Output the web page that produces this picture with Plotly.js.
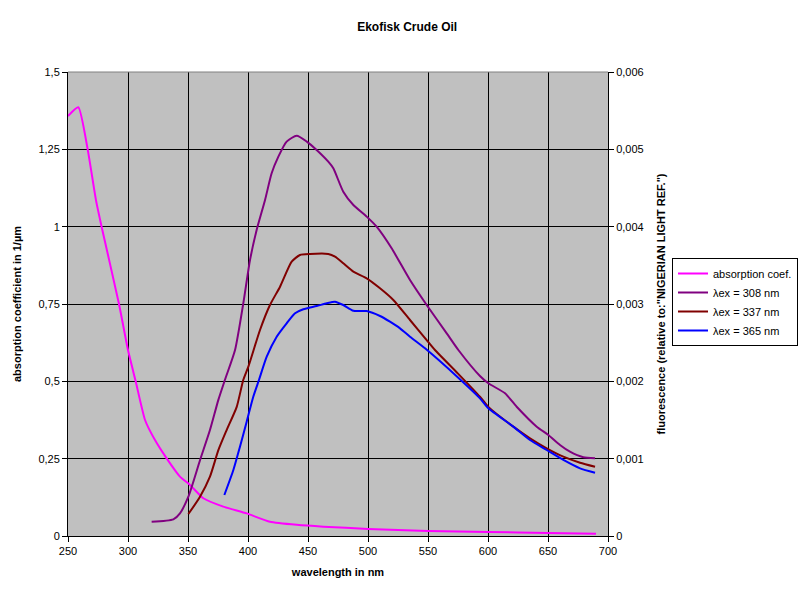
<!DOCTYPE html>
<html>
<head>
<meta charset="utf-8">
<script src="https://cdn.plot.ly/plotly-3.0.1.min.js"></script>
<style>html,body{margin:0;padding:0;background:#fff;}#chart{width:800px;height:600px;}</style>
</head>
<body>
<div id="chart"></div>
<script>
const absX = [250, 258.6, 266.4, 273.3, 278, 292.5, 300, 306.4, 314.2, 322.5, 332.2, 343.3, 351.7, 362.8, 379.4, 398.9, 418.3, 440.6, 462.8, 500, 550, 600, 650, 690];
const absY = [1.358, 1.386, 1.25, 1.086, 1.0, 0.75, 0.601, 0.5, 0.375, 0.31, 0.251, 0.192, 0.165, 0.122, 0.095, 0.073, 0.046, 0.036, 0.030, 0.023, 0.016, 0.013, 0.010, 0.007];

const ex308X = [319.7, 337.8, 343.3, 350.3, 360, 368.3, 375.3, 380.8, 389.2, 396.1, 401.7, 407.2, 414.2, 419.7, 425.3, 432.2, 440.6, 449, 457.2, 466.9, 471.1, 479.4, 487.8, 498.9, 507.2, 519.7, 535, 548.9, 565.6, 575.3, 593.3, 600.3, 614.2, 623.9, 640.6, 650.3, 660, 668.3, 679.4, 689.2];
const ex308Y = [0.000185, 0.000216, 0.000293, 0.000508, 0.00098, 0.00137, 0.00176, 0.00202, 0.002405, 0.00301, 0.00357, 0.003957, 0.004345, 0.00469, 0.004905, 0.0051, 0.005176, 0.0051, 0.004991, 0.00484, 0.004755, 0.004452, 0.00428, 0.00413, 0.0040, 0.00372, 0.00331, 0.002987, 0.00262, 0.002405, 0.002069, 0.001975, 0.001845, 0.001672, 0.001414, 0.001306, 0.001177, 0.00109, 0.001018, 0.001005];

const ex337X = [350.3, 360, 368.3, 375.3, 382.2, 390.6, 396.1, 400.3, 410, 418.3, 426.7, 436.4, 443.3, 451.7, 466.9, 472.5, 479.4, 487.8, 498.9, 510, 521.1, 535, 548.9, 555.8, 575, 593.3, 600.3, 621.1, 635, 648.9, 662.8, 676.7, 689.2];
const ex337Y = [0.000284, 0.000508, 0.000767, 0.00111, 0.00137, 0.00167, 0.00202, 0.00219, 0.002664, 0.002987, 0.003224, 0.003547, 0.003634, 0.003647, 0.003647, 0.003612, 0.003526, 0.003418, 0.003332, 0.003203, 0.003052, 0.002793, 0.002534, 0.002405, 0.00210, 0.001801, 0.00167, 0.001414, 0.001263, 0.001134, 0.001026, 0.000948, 0.000896];

const ex365X = [380.3, 387.8, 393.3, 398.9, 404.4, 409.2, 415.6, 423.9, 432.2, 439.2, 446.1, 457.2, 465.6, 472.5, 479.4, 487.8, 498.9, 510, 518.3, 526.7, 535, 547.5, 575, 593.3, 600.3, 621.1, 635, 648.9, 662.8, 676.7, 689.2];
const ex365Y = [0.00053, 0.000853, 0.001155, 0.001478, 0.001801, 0.00202, 0.002318, 0.002577, 0.00275, 0.00288, 0.002932, 0.002974, 0.00301, 0.00303, 0.002987, 0.002913, 0.002909, 0.002845, 0.002771, 0.002685, 0.002577, 0.002427, 0.00205, 0.00178, 0.001651, 0.001414, 0.001241, 0.001112, 0.000983, 0.000875, 0.000819];

const seriesNames = ['absorption coef.', 'λex = 308 nm', 'λex = 337 nm', 'λex = 365 nm'];

const FONT = 'Arial, "Liberation Sans", sans-serif';
const data = [
  {x: absX, y: absY, name: seriesNames[0], type: 'scatter', mode: 'lines', line: {color: '#FF00FF', width: 2, shape: 'spline', smoothing: 0.5}, yaxis: 'y'},
  {x: ex308X, y: ex308Y, name: seriesNames[1], type: 'scatter', mode: 'lines', line: {color: '#800080', width: 2, shape: 'spline', smoothing: 0.6}, yaxis: 'y2'},
  {x: ex337X, y: ex337Y, name: seriesNames[2], type: 'scatter', mode: 'lines', line: {color: '#800000', width: 2, shape: 'spline', smoothing: 0.6}, yaxis: 'y2'},
  {x: ex365X, y: ex365Y, name: seriesNames[3], type: 'scatter', mode: 'lines', line: {color: '#0000FF', width: 2, shape: 'spline', smoothing: 0.6}, yaxis: 'y2'}
];

const layout = {
  width: 800, height: 600,
  separators: ',.',
  paper_bgcolor: '#ffffff',
  plot_bgcolor: '#c0c0c0',
  font: {family: FONT, size: 11, color: '#000'},
  margin: {l: 68, r: 192, t: 72, b: 64, pad: 0},
  title: {text: 'Ekofisk Crude Oil', font: {family: FONT, size: 12, weight: 'bold', color: '#000'}, xref: 'container', x: 0.509, xanchor: 'center', yref: 'container', y: 0.955, yanchor: 'middle'},
  xaxis: {
    range: [250, 700], dtick: 50, tick0: 250, showgrid: true, gridcolor: '#000', gridwidth: 1,
    showline: true, linecolor: '#000', linewidth: 1, ticks: 'outside', ticklen: 5, tickcolor: '#000',
    zeroline: false, tickfont: {family: FONT, size: 11},
    title: {text: 'wavelength in nm', font: {family: FONT, size: 11, weight: 'bold'}, standoff: 12}
  },
  yaxis: {
    range: [0, 1.5], dtick: 0.25, tick0: 0, showgrid: true, gridcolor: '#000', gridwidth: 1,
    showline: true, linecolor: '#000', linewidth: 1, ticks: 'outside', ticklen: 5, tickcolor: '#000',
    zeroline: false, tickfont: {family: FONT, size: 11},
    title: {text: 'absorption coefficient in 1/µm', font: {family: FONT, size: 11, weight: 'bold'}, standoff: 14}
  },
  yaxis2: {
    range: [0, 0.006], dtick: 0.001, tick0: 0, overlaying: 'y', side: 'right', showgrid: false,
    showline: true, linecolor: '#000', linewidth: 1, ticks: 'outside', ticklen: 5, tickcolor: '#000',
    zeroline: false, tickfont: {family: FONT, size: 11},
    title: {text: 'fluorescence (relative to:"NIGERIAN LIGHT REF.")', font: {family: FONT, size: 11, weight: 'bold'}, standoff: 14}
  },
  showlegend: true,
  legend: {
    xref: 'container', yref: 'container', x: 0.84, y: 0.57, xanchor: 'left', yanchor: 'top',
    bgcolor: '#fff', bordercolor: '#000', borderwidth: 1,
    font: {family: FONT, size: 11}, itemwidth: 30, tracegroupgap: 0
  },
  shapes: [
    {type: 'line', xref: 'paper', yref: 'paper', x0: 0, x1: 1, y0: 1, y1: 1, line: {color: '#808080', width: 1}}
  ]
};

Plotly.newPlot('chart', data, layout, {displayModeBar: false, staticPlot: true});
</script>
</body>
</html>
